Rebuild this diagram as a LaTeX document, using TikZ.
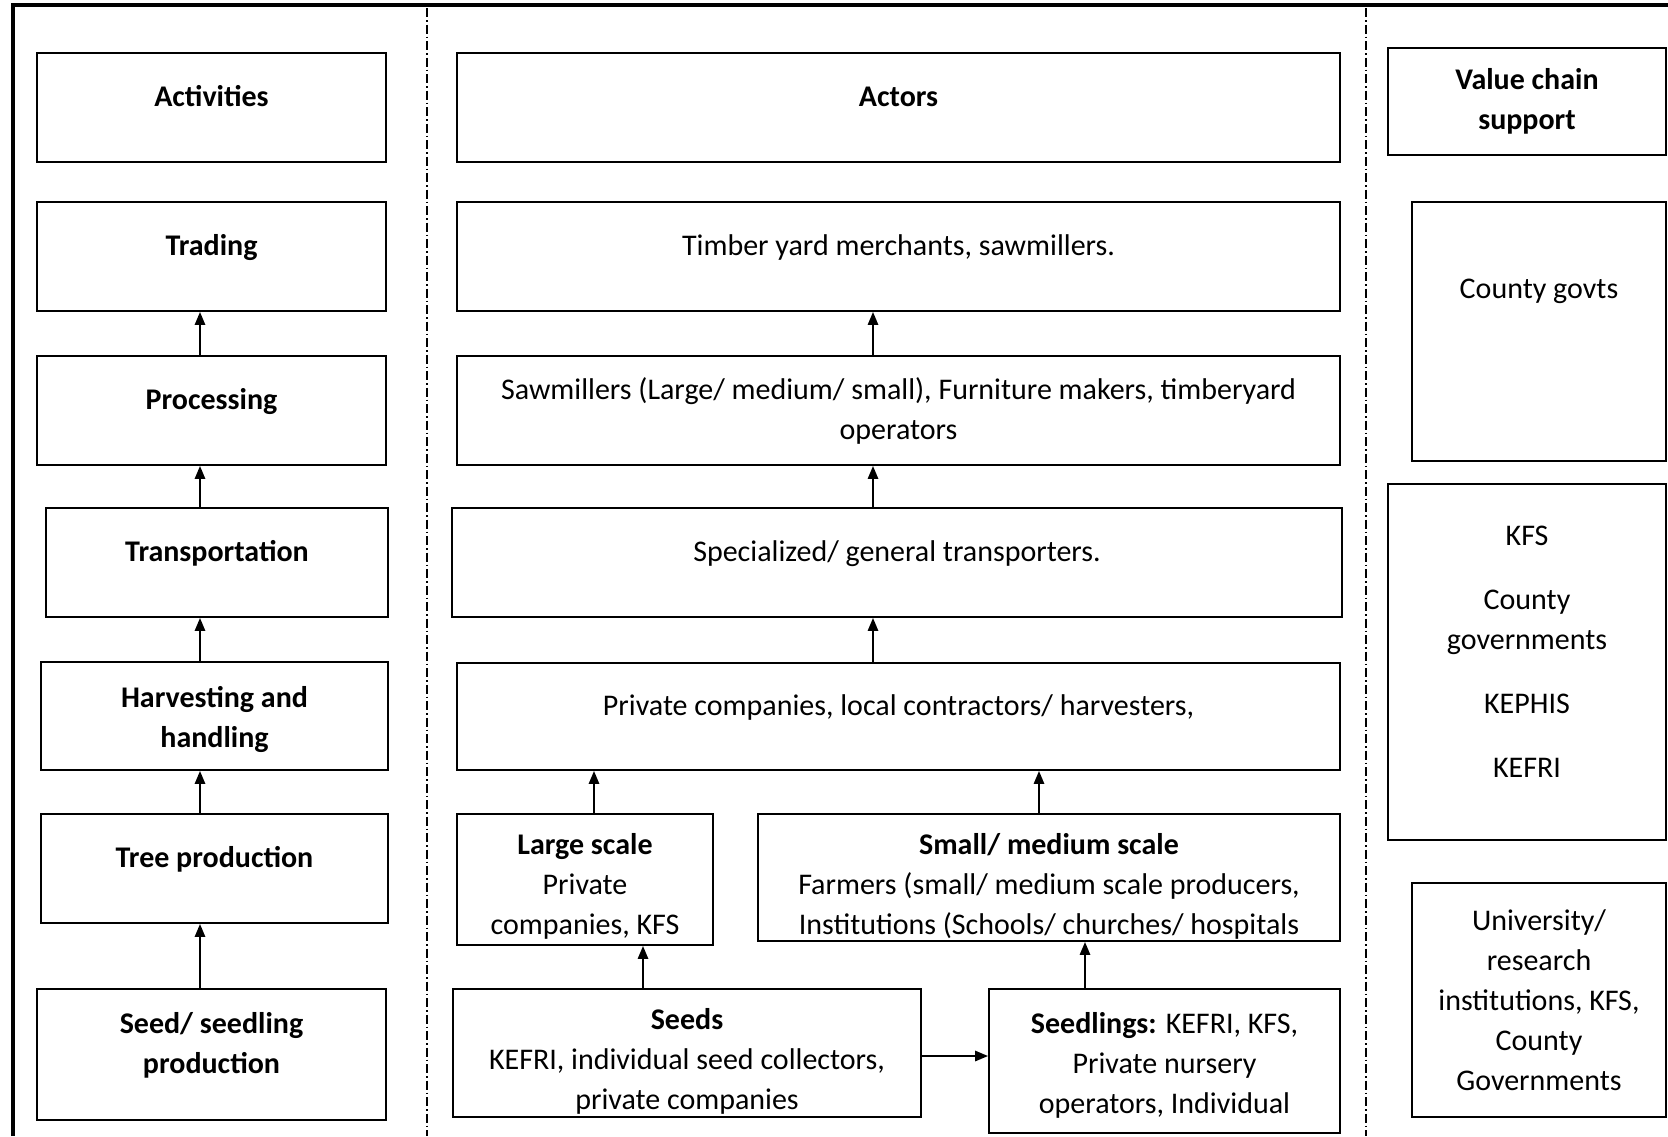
\documentclass[tikz,border=0pt]{standalone}
\usepackage{fontspec}
\setmainfont{Carlito}
\usetikzlibrary{shapes,arrows}

\tikzset{
  box/.style={draw, line width=2.2pt, align=center, inner sep=0pt,
              font=\fontsize{30}{40}\selectfont},
  oneline/.style={text height=21pt, text depth=24pt},
  leftbox/.style={box, oneline, minimum width=349, minimum height=109},
  midbox/.style={box, oneline, minimum width=883, minimum height=109},
  link/.style={->, line width=2pt},
  divider/.style={line width=1.4pt, dash pattern=on 9pt off 3pt on 1.5pt off 3pt},
  frame/.style={line width=4.5pt}
}

\begin{document}
\begin{tikzpicture}[x=1pt, y=-1pt, >=triangle 45]
%%%
\useasboundingbox (0,0) rectangle (1668,1136);

% Frame and column separators
\draw[frame] (13,1136) -- (13,5) -- (1668,5);
\draw[divider] (427,8) -- (427,1136);
\draw[divider] (1366,8) -- (1366,1136);

% Activities
\node[leftbox] (act)   at (211.5, 107.5) {\bfseries Activities};
\node[leftbox] (trade) at (211.5, 256.5) {\bfseries Trading};
\node[leftbox] (proc)  at (211.5, 410.5) {\bfseries Processing};
\node[leftbox, minimum width=342] (trans) at (217, 562.5) {\bfseries Transportation};
\node[leftbox, minimum width=347, minimum height=108, text height=62pt, text depth=0pt] (harv) at (214.5, 716)
  {\bfseries Harvesting and\\ \bfseries handling};
\node[leftbox, minimum width=347] (tree) at (214.5, 868.5) {\bfseries Tree production};
\node[leftbox, minimum height=131, text height=61pt, text depth=24pt] (seed) at (211.5, 1054.5)
  {\bfseries Seed/ seedling\\ \bfseries production};

% Actors
\node[midbox] (actors) at (898.5, 107.5) {\bfseries Actors};
\node[midbox] (timber) at (898.5, 256.5) {Timber yard merchants, sawmillers.};
\node[box, minimum width=883, minimum height=109] (saw) at (898.5, 410.5)
  {Sawmillers (Large/ medium/ small), Furniture makers, timberyard\\ operators};
\node[midbox, minimum width=890] (spec) at (897, 562.5) {Specialized/ general transporters.};
\node[midbox, minimum height=107] (priv) at (898.5, 716.5) {Private companies, local contractors/ harvesters,};
\node[box, minimum width=256, minimum height=131, text height=109pt, text depth=0pt] (large) at (585, 879.5)
  {\bfseries Large scale\\ Private\\ companies, KFS};
\node[box, minimum width=582, minimum height=127, text height=113pt, text depth=0pt] (small) at (1049, 877.5)
  {\bfseries Small/ medium scale\\ Farmers (small/ medium scale producers,\\ Institutions (Schools/ churches/ hospitals};
\node[box, minimum width=468, minimum height=128, text height=112pt, text depth=0pt] (seeds) at (687, 1053)
  {\bfseries Seeds\\ KEFRI, individual seed collectors,\\ private companies};
\node[box, minimum width=351, minimum height=144, text height=104pt, text depth=0pt] (seedl) at (1164.5, 1061)
  {\textbf{Seedlings:} KEFRI, KFS,\\ Private nursery\\ operators, Individual};

% Value chain support
\node[box, minimum width=278, minimum height=107] (vcs) at (1527, 101.5) {\bfseries Value chain\\ \bfseries support};
\node[box, minimum width=254, text height=96pt, text depth=163pt] (county) at (1539, 331.5) {County govts};
\node[box, minimum width=278, minimum height=356, text height=230pt, text depth=0pt] (kfs) at (1527, 662)
  {KFS\\[24pt] County\\ governments\\[24pt] KEPHIS\\[24pt] KEFRI};
\node[box, minimum width=254, minimum height=234] (univ) at (1539, 1000)
  {University/\\ research\\ institutions, KFS,\\ County\\ Governments};

% arrows
\draw[link] (proc.north -| 200,0) -- (trade.south -| 200,0);
\draw[link] (trans.north -| 200,0) -- (proc.south -| 200,0);
\draw[link] (harv.north -| 200,0) -- (trans.south -| 200,0);
\draw[link] (tree.north -| 200,0) -- (harv.south -| 200,0);
\draw[link] (seed.north -| 200,0) -- (tree.south -| 200,0);

\draw[link] (saw.north -| 873,0) -- (timber.south -| 873,0);
\draw[link] (spec.north -| 873,0) -- (saw.south -| 873,0);
\draw[link] (priv.north -| 873,0) -- (spec.south -| 873,0);
\draw[link] (large.north -| 594,0) -- (priv.south -| 594,0);
\draw[link] (small.north -| 1039,0) -- (priv.south -| 1039,0);
\draw[link] (seeds.north -| 643,0) -- (large.south -| 643,0);
\draw[link] (seedl.north -| 1085,0) -- (small.south -| 1085,0);
\draw[link] (seeds.east |- 0,1056) -- (seedl.west |- 0,1056);
%%%
\end{tikzpicture}
\end{document}
